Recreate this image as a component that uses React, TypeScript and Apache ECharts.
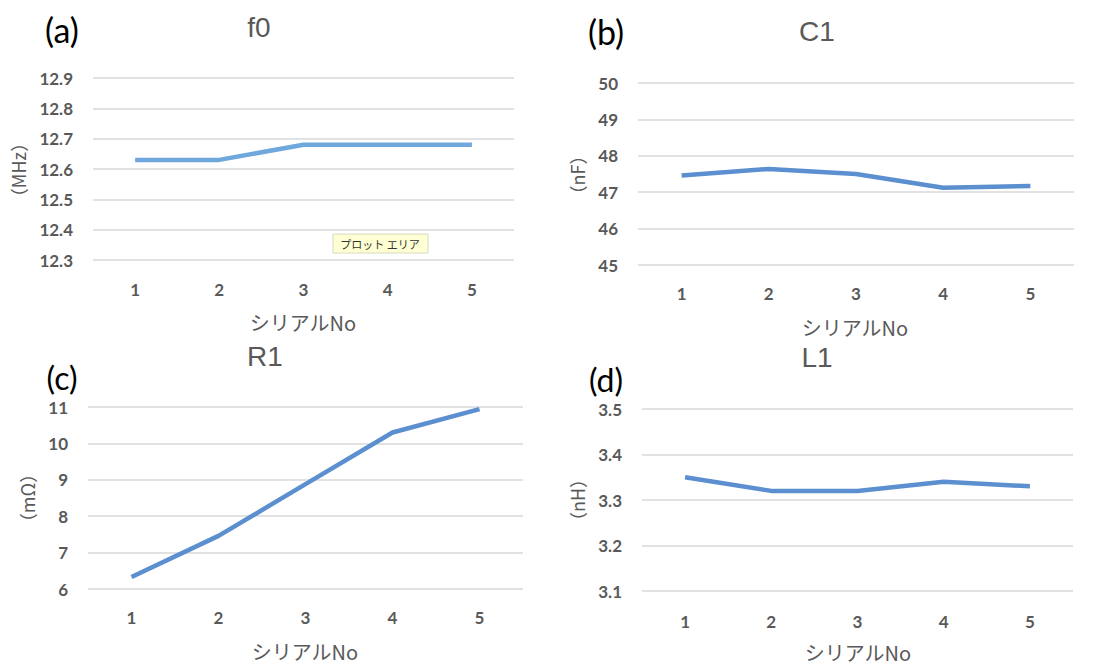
import React, { useEffect, useRef } from "react";
import * as echarts from "echarts";

const categories = ["1", "2", "3", "4", "5"];
const f0Values = [12.63, 12.63, 12.68, 12.68, 12.68];
const c1Values = [47.46, 47.64, 47.5, 47.12, 47.17];
const r1Values = [6.33, 7.46, 8.88, 10.3, 10.94];
const l1Values = [3.35, 3.32, 3.32, 3.34, 3.33];

const titles = ["f0", "C1", "R1", "L1"];
const panelLabels = ["(a)", "(b)", "(c)", "(d)"];
const unitLabels = ["（MHz）", "（nF）", "（mΩ）", "（nH）"];
const xAxisName = "シリアルNo";
const tooltipText = "プロット エリア";

const TICK_FONT = "Lato, 'Open Sans', sans-serif";
const TITLE_FONT = "'Liberation Sans', Arial, sans-serif";
const CJK_FONT = "'Noto Sans CJK JP', 'Noto Sans', sans-serif";
const GRAY = "#595959";

export default function App() {
  const ref = useRef<HTMLDivElement>(null);

  useEffect(() => {
    if (!ref.current) return;
    const chart = echarts.init(ref.current, undefined, { renderer: "svg" });

    const grids = [
      { left: 93, top: 78, width: 421, height: 182 },
      { left: 638, top: 83, width: 436, height: 182 },
      { left: 88, top: 407, width: 435, height: 182 },
      { left: 642, top: 409, width: 431, height: 182 },
    ];
    const yCfg = [
      { min: 12.3, max: 12.9, interval: 0.1, dec: 1 },
      { min: 45, max: 50, interval: 1, dec: 0 },
      { min: 6, max: 11, interval: 1, dec: 0 },
      { min: 3.1, max: 3.5, interval: 0.1, dec: 1 },
    ];
    const values = [f0Values, c1Values, r1Values, l1Values];
    const colors = ["#6fa8dc", "#5b8fcf", "#5b8fcf", "#5b8fcf"];
    const xLabelMargin = [21, 20, 20, 22];

    const titlePos = [
      [259, 27],
      [817, 31],
      [265, 356],
      [817, 357],
    ];
    const panelPos = [
      [62, 29],
      [606, 31],
      [62, 377],
      [606, 379],
    ];
    const panelSize = [34, 34, 32, 32];
    const unitPos = [
      [18, 170],
      [577, 175],
      [27, 498],
      [577, 500],
    ];
    const xNamePos = [
      [303, 322],
      [855, 327],
      [305, 651],
      [858, 652],
    ];

    const graphics: any[] = [];
    for (let i = 0; i < 4; i++) {
      graphics.push({
        type: "text",
        x: titlePos[i][0],
        y: titlePos[i][1],
        style: {
          text: titles[i],
          font: `28px ${TITLE_FONT}`,
          fill: GRAY,
          align: "center",
          verticalAlign: "middle",
        },
      });
      graphics.push({
        type: "text",
        x: panelPos[i][0],
        y: panelPos[i][1],
        style: {
          text: panelLabels[i],
          font: `${panelSize[i]}px ${TICK_FONT}`,
          fill: "#000000",
          align: "center",
          verticalAlign: "middle",
        },
      });
      graphics.push({
        type: "text",
        x: unitPos[i][0],
        y: unitPos[i][1],
        rotation: Math.PI / 2,
        style: {
          text: unitLabels[i],
          font: `18px ${CJK_FONT}`,
          fill: GRAY,
          align: "center",
          verticalAlign: "middle",
        },
      });
      graphics.push({
        type: "text",
        x: xNamePos[i][0],
        y: xNamePos[i][1],
        style: {
          text: xAxisName,
          font: `20px ${CJK_FONT}`,
          fill: GRAY,
          align: "center",
          verticalAlign: "middle",
        },
      });
    }
    graphics.push({
      type: "rect",
      shape: { x: 333, y: 234, width: 95, height: 19 },
      style: { fill: "#ffffd4", stroke: "#d8d8c0", lineWidth: 1 },
    });
    graphics.push({
      type: "text",
      x: 380,
      y: 243.5,
      style: {
        text: tooltipText,
        font: `11px ${CJK_FONT}`,
        fill: "#333333",
        align: "center",
        verticalAlign: "middle",
      },
    });

    chart.setOption({
      animation: false,
      backgroundColor: "#ffffff",
      grid: grids.map((g) => ({ ...g, containLabel: false })),
      xAxis: grids.map((_, i) => ({
        type: "category",
        gridIndex: i,
        data: categories,
        boundaryGap: true,
        axisLine: { show: false },
        axisTick: { show: false },
        axisLabel: {
          color: GRAY,
          fontSize: 17,
          fontFamily: TICK_FONT,
          fontWeight: "bold",
          margin: xLabelMargin[i],
        },
      })),
      yAxis: yCfg.map((c, i) => ({
        type: "value",
        gridIndex: i,
        min: c.min,
        max: c.max,
        interval: c.interval,
        axisLine: { show: false },
        axisTick: { show: false },
        axisLabel: {
          color: GRAY,
          fontSize: 17,
          fontFamily: TICK_FONT,
          fontWeight: "bold",
          margin: 20,
          formatter: (v: number) => v.toFixed(c.dec),
        },
        splitLine: { lineStyle: { color: "#d9d9d9", width: 1.5 } },
      })),
      series: values.map((vals, i) => ({
        type: "line",
        xAxisIndex: i,
        yAxisIndex: i,
        data: vals,
        symbol: "none",
        lineStyle: { color: colors[i], width: 4.5 },
        itemStyle: { color: colors[i] },
      })),
      graphic: graphics,
    });

    return () => chart.dispose();
  }, []);

  return (
    <div
      ref={ref}
      style={{ position: "fixed", left: 0, top: 0, width: 1100, height: 667, background: "#fff" }}
    />
  );
}
